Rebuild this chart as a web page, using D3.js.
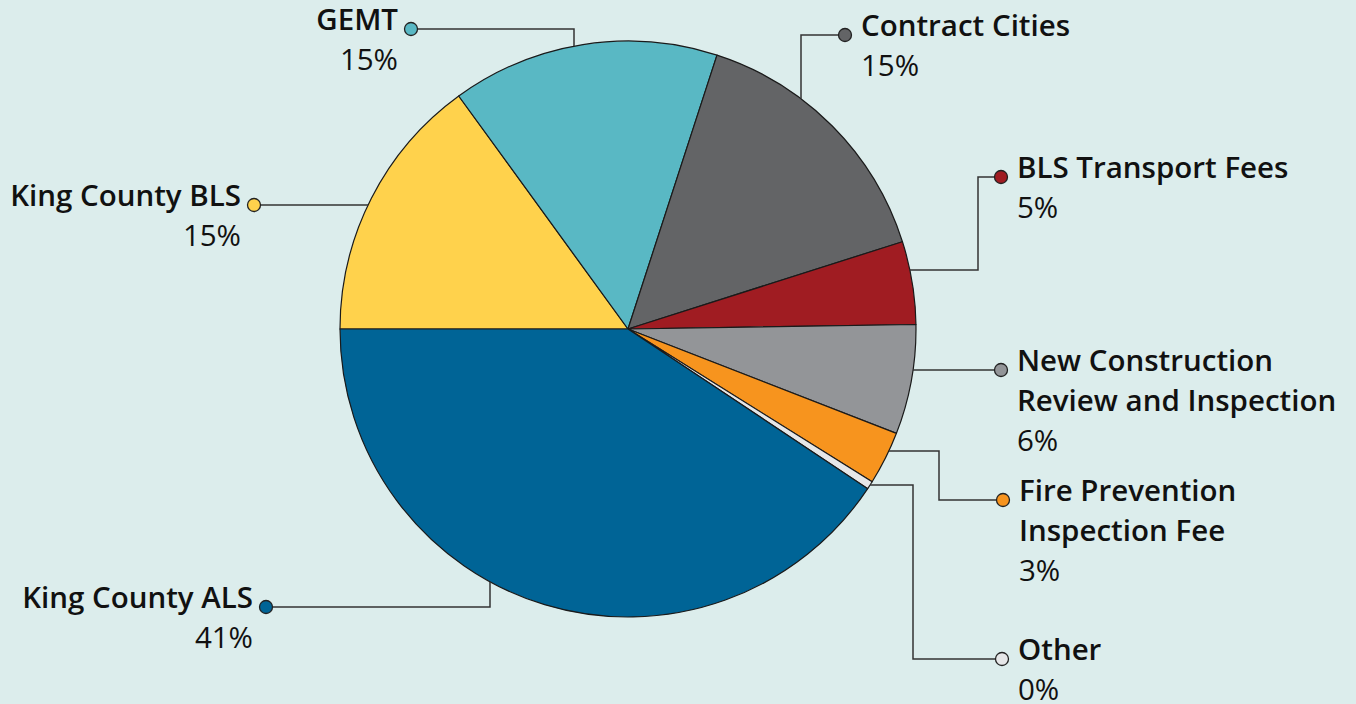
<!DOCTYPE html>
<html>
<head>
<meta charset="utf-8">
<script src="https://cdn.jsdelivr.net/npm/d3@7"></script>
<style>
  html, body { margin: 0; padding: 0; background: #dcedec; }
  svg { display: block; }
</style>
</head>
<body>
<svg id="chart"></svg>
<script>
// slice data, clockwise from 9 o'clock
const categories = ["King County BLS", "GEMT", "Contract Cities", "BLS Transport Fees",
  "New Construction Review and Inspection", "Fire Prevention Inspection Fee", "Other", "King County ALS"];
const values = [15.0, 15.0, 15.1, 4.65, 6.15, 3.0, 0.45, 40.65];
const pctLabels = ["15%", "15%", "15%", "5%", "6%", "3%", "0%", "41%"];
const nameLines = [["King County BLS"], ["GEMT"], ["Contract Cities"], ["BLS Transport Fees"],
  ["New Construction", "Review and Inspection"], ["Fire Prevention", "Inspection Fee"], ["Other"], ["King County ALS"]];
const colors = ["#ffd24c", "#59b8c4", "#636466", "#a01c22", "#939598", "#f7941e", "#e6e7e8", "#006496"];

const svgWidth = 1356, svgHeight = 704;
const cx = 628, cy = 329, r = 288;

// label layout: dot position, text side, and leader route
// route "h": straight horizontal into pie; "v": horizontal then vertical to pie at elbowX;
// "hv": horizontal to elbowX, vertical to elbowY, horizontal into pie
const layout = [
  {dot: [254, 205], side: "left", route: "h"},
  {dot: [411, 29], side: "left", route: "v", elbowX: 574},
  {dot: [845, 35], side: "right", route: "v", elbowX: 801},
  {dot: [1001, 177], side: "right", route: "hv", elbowX: 978, elbowY: 270},
  {dot: [1001, 370], side: "right", route: "h"},
  {dot: [1003, 500], side: "right", route: "hv", elbowX: 939, elbowY: 451},
  {dot: [1002, 659], side: "right", route: "hv", elbowX: 913, elbowY: 485},
  {dot: [266, 607], side: "left", route: "v", elbowX: 490}
];

const svg = d3.select("#chart")
  .attr("width", svgWidth)
  .attr("height", svgHeight);

svg.append("rect")
  .attr("width", svgWidth)
  .attr("height", svgHeight)
  .attr("fill", "#dcedec");

const pie = d3.pie()
  .sort(null)
  .startAngle(-Math.PI / 2)
  .endAngle(Math.PI * 1.5)
  .value(d => d);

const arc = d3.arc().innerRadius(0).outerRadius(r);
const arcs = pie(values);

const g = svg.append("g").attr("transform", `translate(${cx},${cy})`);

g.selectAll("path")
  .data(arcs)
  .join("path")
  .attr("d", arc)
  .attr("fill", (d, i) => colors[i])
  .attr("stroke", "#1a1a1a")
  .attr("stroke-width", 1.2)
  .attr("stroke-linejoin", "round");

// where a horizontal / vertical line meets the pie edge
const edgeX = (y, sign) => cx + sign * Math.sqrt(r * r - (y - cy) * (y - cy));
const edgeY = (x, sign) => cy + sign * Math.sqrt(r * r - (x - cx) * (x - cx));

const leaders = svg.append("g");

layout.forEach((L, i) => {
  const [dx, dy] = L.dot;
  let pts;
  if (L.route === "h") {
    const sign = dx > cx ? 1 : -1;
    pts = [[dx, dy], [edgeX(dy, sign), dy]];
  } else if (L.route === "v") {
    const sign = dy > cy ? 1 : -1;
    pts = [[dx, dy], [L.elbowX, dy], [L.elbowX, edgeY(L.elbowX, sign)]];
  } else {
    pts = [[dx, dy], [L.elbowX, dy], [L.elbowX, L.elbowY], [edgeX(L.elbowY, 1), L.elbowY]];
  }
  leaders.append("path")
    .attr("d", d3.line()(pts))
    .attr("fill", "none")
    .attr("stroke", "#333")
    .attr("stroke-width", 1.5);

  leaders.append("circle")
    .attr("cx", dx)
    .attr("cy", dy)
    .attr("r", 6.5)
    .attr("fill", colors[i])
    .attr("stroke", "#222")
    .attr("stroke-width", 1.3);

  const tx = L.side === "left" ? dx - 13 : dx + 16;
  const anchor = L.side === "left" ? "end" : "start";
  const text = svg.append("text")
    .attr("x", tx)
    .attr("y", dy + 1)
    .attr("text-anchor", anchor)
    .style("font-family", "'Open Sans', sans-serif")
    .style("font-size", "29.5px")
    .attr("fill", "#111");

  nameLines[i].forEach((line, k) => {
    text.append("tspan")
      .attr("x", tx)
      .attr("dy", k === 0 ? 0 : 39.5)
      .style("font-weight", 600)
      .text(line);
  });
  text.append("tspan")
    .attr("x", tx)
    .attr("dy", 40)
    .style("font-weight", 400)
    .text(pctLabels[i]);
});
</script>
</body>
</html>
